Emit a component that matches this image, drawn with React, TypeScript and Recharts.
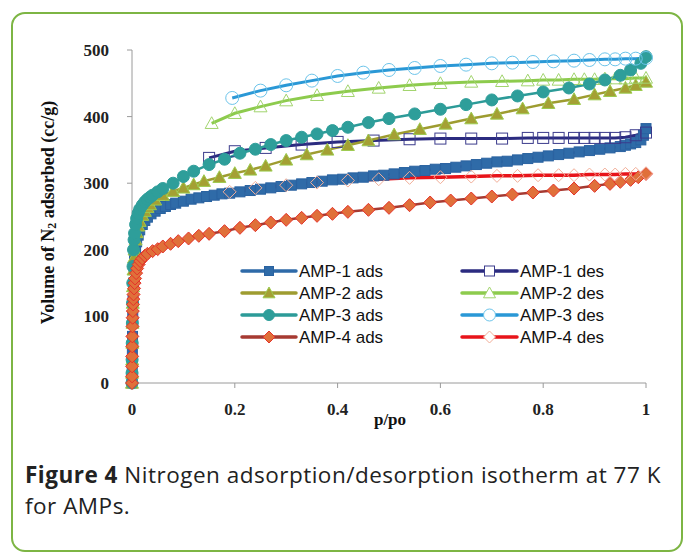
import React from 'react';
import { LineChart, Line, XAxis, YAxis, Label } from 'recharts';

// ---------- data (p/po, volume cc/g) ----------
const amp1AdsP = [0, 0.0002, 0.0004, 0.0007, 0.001, 0.0015, 0.002, 0.003, 0.004, 0.005, 0.007, 0.009, 0.012, 0.015, 0.02, 0.025, 0.03, 0.037, 0.045, 0.055, 0.065, 0.075, 0.085, 0.1, 0.115, 0.13, 0.145, 0.16, 0.175, 0.19, 0.21, 0.23, 0.25, 0.27, 0.29, 0.31, 0.33, 0.35, 0.37, 0.39, 0.41, 0.43, 0.45, 0.47, 0.49, 0.51, 0.53, 0.55, 0.57, 0.59, 0.61, 0.63, 0.65, 0.67, 0.69, 0.71, 0.73, 0.75, 0.77, 0.79, 0.81, 0.83, 0.85, 0.87, 0.89, 0.91, 0.93, 0.95, 0.96, 0.97, 0.98, 0.99, 0.995, 1.0];
const amp1AdsV = [0, 10, 25, 45, 70, 100, 125, 150, 170, 185, 200, 212, 222, 230, 238, 244, 249, 254, 258, 262, 265, 268, 270, 273, 276, 278, 280, 282, 284, 285, 287, 289, 291, 293, 295, 297, 299, 301, 303, 305, 306, 308, 309, 311, 312, 314, 316, 318, 319, 321, 322, 324, 326, 328, 330, 332, 333, 335, 337, 339, 341, 343, 345, 347, 349, 351, 353, 355, 357, 359, 361, 365, 372, 382];

const amp1DesP = [0.15, 0.2, 0.26, 0.33, 0.4, 0.47, 0.54, 0.6, 0.66, 0.72, 0.77, 0.8, 0.83, 0.86, 0.88, 0.9, 0.92, 0.94, 0.96, 0.98, 1.0];
const amp1DesV = [338, 348, 353, 358, 362, 364, 366, 367, 367, 367, 368, 368, 368, 368, 368, 368, 368, 368, 369, 372, 376];

const amp2AdsP = [0, 0.0002, 0.0004, 0.0007, 0.001, 0.0015, 0.002, 0.003, 0.004, 0.005, 0.007, 0.009, 0.012, 0.015, 0.02, 0.025, 0.03, 0.035, 0.045, 0.06, 0.08, 0.1, 0.12, 0.14, 0.17, 0.2, 0.23, 0.26, 0.3, 0.34, 0.38, 0.42, 0.46, 0.51, 0.56, 0.61, 0.66, 0.71, 0.76, 0.81, 0.86, 0.9, 0.93, 0.96, 0.98, 1.0];
const amp2AdsV = [0, 15, 35, 60, 90, 120, 145, 170, 188, 200, 215, 226, 236, 243, 252, 258, 264, 268, 275, 282, 288, 293, 298, 303, 309, 315, 320, 326, 335, 343, 350, 357, 364, 373, 381, 389, 397, 404, 412, 420, 426, 433, 438, 443, 447, 452];

const amp2DesP = [0.155, 0.2, 0.25, 0.3, 0.36, 0.42, 0.48, 0.54, 0.6, 0.66, 0.72, 0.77, 0.8, 0.83, 0.86, 0.88, 0.9, 0.92, 0.94, 0.96, 0.98, 1.0];
const amp2DesV = [390, 405, 415, 424, 432, 438, 443, 447, 450, 452, 453, 454, 455, 455, 456, 456, 456, 457, 457, 457, 458, 458];

const amp3AdsP = [0, 0.0001, 0.0002, 0.0004, 0.0007, 0.001, 0.0015, 0.002, 0.003, 0.004, 0.005, 0.007, 0.009, 0.012, 0.015, 0.02, 0.025, 0.03, 0.035, 0.04, 0.05, 0.06, 0.08, 0.1, 0.12, 0.15, 0.18, 0.21, 0.24, 0.27, 0.3, 0.33, 0.36, 0.39, 0.42, 0.46, 0.5, 0.55, 0.6, 0.65, 0.7, 0.75, 0.8, 0.85, 0.89, 0.92, 0.95, 0.97, 0.99, 1.0];
const amp3AdsV = [0, 15, 35, 60, 90, 120, 150, 175, 200, 215, 225, 238, 247, 255, 261, 267, 272, 276, 279, 282, 287, 292, 300, 310, 318, 328, 336, 345, 351, 358, 364, 369, 374, 379, 384, 391, 397, 404, 411, 418, 425, 431, 437, 443, 449, 455, 462, 470, 480, 490];

const amp3DesP = [0.195, 0.25, 0.3, 0.35, 0.4, 0.45, 0.5, 0.55, 0.6, 0.65, 0.7, 0.74, 0.78, 0.82, 0.86, 0.89, 0.92, 0.94, 0.96, 0.98, 1.0];
const amp3DesV = [428, 439, 447, 454, 461, 466, 470, 473, 476, 478, 480, 481, 482, 483, 484, 485, 486, 486, 487, 487, 488];

const amp4AdsP = [0, 0.0001, 0.0002, 0.0003, 0.0005, 0.0007, 0.001, 0.0013, 0.0016, 0.002, 0.0025, 0.003, 0.004, 0.005, 0.006, 0.008, 0.01, 0.013, 0.016, 0.02, 0.025, 0.03, 0.04, 0.05, 0.06, 0.075, 0.09, 0.11, 0.13, 0.15, 0.18, 0.21, 0.24, 0.27, 0.3, 0.33, 0.36, 0.39, 0.42, 0.46, 0.5, 0.54, 0.58, 0.62, 0.66, 0.7, 0.74, 0.78, 0.82, 0.86, 0.9, 0.93, 0.95, 0.97, 0.985, 1.0];
const amp4AdsV = [0, 10, 25, 40, 55, 70, 85, 98, 108, 118, 126, 133, 142, 150, 157, 165, 172, 178, 183, 187, 191, 194, 198, 201, 205, 209, 213, 217, 221, 224, 228, 233, 237, 241, 245, 248, 251, 254, 257, 260, 263, 267, 271, 274, 277, 280, 283, 286, 289, 292, 296, 299, 302, 305, 309, 314];

const amp4DesP = [0.19, 0.24, 0.3, 0.36, 0.42, 0.48, 0.54, 0.6, 0.66, 0.71, 0.75, 0.79, 0.83, 0.86, 0.89, 0.92, 0.94, 0.96, 0.98, 1.0];
const amp4DesV = [287, 293, 297, 301, 304, 306, 308, 309, 310, 311, 311, 312, 312, 312, 313, 313, 313, 314, 314, 315];

const seriesNames = ['AMP-1 ads', 'AMP-1 des', 'AMP-2 ads', 'AMP-2 des', 'AMP-3 ads', 'AMP-3 des', 'AMP-4 ads', 'AMP-4 des'];
const xTicks = [0, 0.2, 0.4, 0.6, 0.8, 1];
const yTicks = [0, 100, 200, 300, 400, 500];
const xTitle = 'p/po';
const captionBold = 'Figure 4';
const captionLine1 = 'Nitrogen adsorption/desorption isotherm at 77 K';
const captionLine2 = 'for AMPs.';

const toPts = (p: number[], v: number[]) => p.map((x, i) => ({ p: x, v: v[i] }));

const seriesData = [
  toPts(amp1AdsP, amp1AdsV),
  toPts(amp1DesP, amp1DesV),
  toPts(amp2AdsP, amp2AdsV),
  toPts(amp2DesP, amp2DesV),
  toPts(amp3AdsP, amp3AdsV),
  toPts(amp3DesP, amp3DesV),
  toPts(amp4AdsP, amp4AdsV),
  toPts(amp4DesP, amp4DesV),
];

type Style = { line: string; width: number; shape: string; size: number; fill: string; stroke: string; sw: number };
const styles: Style[] = [
  { line: '#2E6AA8', width: 2.5, shape: 'square', size: 10, fill: '#2F6BA8', stroke: '#2A62A0', sw: 1 },
  { line: '#2B2B80', width: 3, shape: 'square', size: 11, fill: 'none', stroke: '#3B3B8C', sw: 1 },
  { line: '#9E9C30', width: 2.5, shape: 'triangle', size: 13, fill: '#A4A034', stroke: '#9CCB4E', sw: 1 },
  { line: '#8DCB4D', width: 3, shape: 'triangle', size: 13, fill: 'none', stroke: '#A2D46E', sw: 1 },
  { line: '#2C9B98', width: 2.5, shape: 'circle', size: 12, fill: '#2E9E9A', stroke: '#2E9E9A', sw: 1 },
  { line: '#2A98D6', width: 3, shape: 'circle', size: 13, fill: 'none', stroke: '#6CC4EA', sw: 1 },
  { line: '#A63A32', width: 2.5, shape: 'diamond', size: 13, fill: '#E0703A', stroke: '#E5322A', sw: 1 },
  { line: '#E8141A', width: 3.5, shape: 'diamond', size: 13, fill: 'none', stroke: '#F2AE98', sw: 1 },
];

function marker(shape: string, cx: number, cy: number, s: number, fill: string, stroke: string, sw: number, key?: string) {
  const h = s / 2;
  if (shape === 'square') return <rect key={key} x={cx - h} y={cy - h} width={s} height={s} fill={fill} stroke={stroke} strokeWidth={sw} />;
  if (shape === 'circle') return <circle key={key} cx={cx} cy={cy} r={h} fill={fill} stroke={stroke} strokeWidth={sw} />;
  if (shape === 'triangle')
    return <polygon key={key} points={`${cx},${cy - h} ${cx + h},${cy + h * 0.8} ${cx - h},${cy + h * 0.8}`} fill={fill} stroke={stroke} strokeWidth={sw} />;
  return <polygon key={key} points={`${cx},${cy - h} ${cx + h},${cy} ${cx},${cy + h} ${cx - h},${cy}`} fill={fill} stroke={stroke} strokeWidth={sw} />;
}

const serif = '"Liberation Serif", "Times New Roman", serif';

function YTitle(props: any) {
  const vb = props.viewBox || {};
  const cx = 48;
  const cy = (vb.y ?? 50) + (vb.height ?? 333) / 2 - 4;
  return (
    <text x={cx} y={cy} transform={`rotate(-90, ${cx}, ${cy})`} textAnchor="middle" dominantBaseline="central"
      fontFamily={serif} fontWeight="bold" fontSize={18} fill="#111">
      Volume of N<tspan fontSize={12} dy={4}>2</tspan><tspan dy={-4}> adsorbed (cc/g)</tspan>
    </text>
  );
}

function XTitle(props: any) {
  const vb = props.viewBox || {};
  const cx = (vb.x ?? 132) + (vb.width ?? 514) / 2 + 1;
  return (
    <text x={cx} y={425} textAnchor="middle" fontFamily={serif} fontWeight="bold" fontSize={17} fill="#111">{xTitle}</text>
  );
}

function LegendBox() {
  const rows = [271, 293, 315, 337];
  const cols = [{ l: 242, r: 296, t: 299 }, { l: 462, r: 517, t: 520 }];
  return (
    <svg width={683} height={553} style={{ position: 'absolute', left: 0, top: 0, pointerEvents: 'none' }}>
      {seriesNames.map((n, i) => {
        const c = cols[i % 2];
        const y = rows[Math.floor(i / 2)];
        const st = styles[i];
        const mx = (c.l + c.r) / 2;
        return (
          <g key={n}>
            <line x1={c.l} x2={c.r} y1={y} y2={y} stroke={st.line} strokeWidth={3.5} strokeLinecap="round" />
            {marker(st.shape, mx, y, st.size - 1, st.fill === 'none' ? '#ffffff' : st.fill, st.stroke, st.sw)}
            <text x={c.t} y={y} dominantBaseline="central" fontFamily='"Liberation Sans", Arial, sans-serif' fontSize={17} fill="#111">{n}</text>
          </g>
        );
      })}
    </svg>
  );
}

export default function App() {
  const capFont: React.CSSProperties = { fontFamily: '"Open Sans", Lato, sans-serif', fontSize: 22.5, letterSpacing: '0.5px', color: '#222', whiteSpace: 'nowrap', position: 'absolute', left: 25, lineHeight: '31px' };
  return (
    <div style={{ position: 'absolute', left: 0, top: 0, width: 683, height: 553, background: '#fff', overflow: 'hidden' }}>
      <div style={{ position: 'absolute', left: 11, top: 12, width: 668, height: 536, border: '2px solid #7DB544', borderRadius: 14 }} />
      <div style={{ position: 'absolute', left: 0, top: 0 }}>
        <LineChart width={683} height={553} margin={{ top: 50, right: 37, left: 0, bottom: 130 }}>
          <XAxis dataKey="p" type="number" domain={[0, 1]} ticks={xTicks}
            axisLine={{ stroke: '#9a9a9a' }} tickLine={{ stroke: '#9a9a9a' }} tickSize={5} tickMargin={15} height={40}
            tick={{ fontFamily: serif, fontWeight: 'bold', fontSize: 17, fill: '#222' }}>
            <Label content={<XTitle />} />
          </XAxis>
          <YAxis dataKey="v" type="number" domain={[0, 500]} ticks={yTicks} width={132}
            axisLine={{ stroke: '#9a9a9a' }} tickLine={{ stroke: '#9a9a9a' }} tickSize={5} tickMargin={18}
            tick={{ fontFamily: serif, fontWeight: 'bold', fontSize: 17, fill: '#222' }}>
            <Label content={<YTitle />} />
          </YAxis>
          {seriesData.map((d, i) => {
            const st = styles[i];
            return (
              <Line key={seriesNames[i]} data={d} dataKey="v" name={seriesNames[i]} type="linear"
                stroke={st.line} strokeWidth={st.width} isAnimationActive={false} activeDot={false}
                dot={(props: any) => marker(st.shape, props.cx, props.cy, st.size, st.fill, st.stroke, st.sw, `${i}-${props.index}`)} />
            );
          })}
        </LineChart>
      </div>
      <LegendBox />
      <div style={{ ...capFont, top: 459 }}>
        <b>{captionBold}</b><span> {captionLine1}</span>
      </div>
      <div style={{ ...capFont, top: 490 }}>
        <span>{captionLine2}</span>
      </div>
    </div>
  );
}
